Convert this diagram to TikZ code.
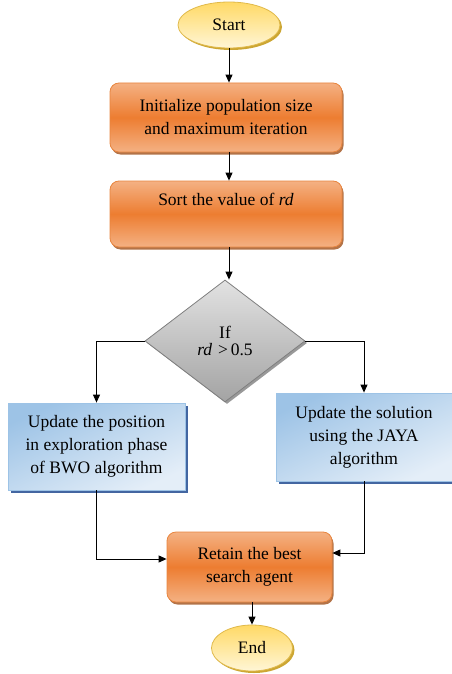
\documentclass[tikz,border=0pt]{standalone}
\usepackage{fontspec}
\setmainfont{Liberation Serif}
\usetikzlibrary{shapes.geometric,arrows.meta,shadows,positioning}
\definecolor{orLight}{HTML}{F4B183}
\definecolor{orMid}{HTML}{ED7D31}
\definecolor{orLine}{HTML}{E8853F}
\definecolor{orShadow}{HTML}{A0501A}
\definecolor{blTop}{HTML}{9DC3E6}
\definecolor{blBot}{HTML}{E4EEF8}
\definecolor{blLine}{HTML}{9DC3E6}
\definecolor{blShadow}{HTML}{2F5597}
\definecolor{grTop}{HTML}{E2E2E2}
\definecolor{grBot}{HTML}{A3A3A3}
\definecolor{grLine}{HTML}{7F7F7F}
\definecolor{ylTop}{HTML}{FFD966}
\definecolor{ylBot}{HTML}{FFF6D6}
\definecolor{ylLine}{HTML}{E0B94A}
\definecolor{ylShadow}{HTML}{BF9000}
\tikzset{
  x=1pt, y=1pt,
  every node/.style={font=\fontsize{17.5}{23}\selectfont, align=center, inner sep=0pt},
  terminal/.style={ellipse, draw=ylLine, line width=0.8pt, top color=ylTop, bottom color=ylBot,
    drop shadow={shadow xshift=2pt, shadow yshift=-2pt, fill=ylShadow, opacity=0.8}},
  procbox/.style={rectangle, rounded corners=9pt, draw=orLine, line width=0.8pt,
    top color=orLight, bottom color=orLight, middle color=orMid,
    drop shadow={shadow xshift=1.5pt, shadow yshift=-2.5pt, fill=orShadow, opacity=0.8}},
  bluebox/.style={rectangle, draw=blLine, line width=0.8pt,
    top color=blTop, bottom color=blBot, shading angle=25,
    drop shadow={shadow xshift=3pt, shadow yshift=-3pt, fill=blShadow, opacity=0.9}},
  decision/.style={diamond, draw=grLine, line width=0.8pt, top color=grTop, bottom color=grBot,
    drop shadow={shadow xshift=2pt, shadow yshift=-2pt, fill=gray, opacity=0.8}},
  flow/.style={line width=1pt, -{Triangle[length=8pt,width=7pt]}},
}
\begin{document}
\begin{tikzpicture}
\useasboundingbox (0,0) rectangle (452,-674);

% nodes
\node[terminal, minimum width=102pt, minimum height=46pt] (start) at (229,-25) {Start};
\node[procbox, minimum width=232pt, minimum height=69pt] (init) at (226,-117.5)
  {Initialize population size\\and maximum iteration};
\node[procbox, minimum width=232pt, minimum height=66pt] (sort) at (226,-214)
  {Sort the value of \textit{rd}\\ \strut};
\node[decision, minimum width=160pt, minimum height=122pt] (dec) at (225,-341)
  {If\\[-6pt]\textit{rd}\,\,>\,0.5};
\node[bluebox, minimum width=177pt, minimum height=87pt] (bwo) at (96.5,-446.5)
  {Update the position\\in exploration phase\\of BWO algorithm};
\node[bluebox, minimum width=176pt, minimum height=88pt] (jaya) at (364,-437)
  {Update the solution\\using the JAYA\\algorithm};
\node[procbox, minimum width=165pt, minimum height=70pt] (retain) at (249.5,-567)
  {Retain the best\\search agent};
\node[terminal, minimum width=81pt, minimum height=46pt] (end) at (252,-648) {End};

% connectors
\draw[flow] (start.south) -- (start.south |- init.north);
\draw[flow] (init.south -| start.south) -- (sort.north -| start.south);
\draw[flow] (sort.south -| start.south) -- (dec.north -| start.south);
\draw[flow] (dec.west) -| (bwo.north);
\draw[flow] (dec.east) -| (jaya.north);
\draw[flow] (bwo.south) |- ([yshift=8pt]retain.west);
\draw[flow] (jaya.south) |- ([yshift=14pt]retain.east);
\draw[flow] (retain.south -| end.north) -- (end.north);
\end{tikzpicture}
\end{document}
